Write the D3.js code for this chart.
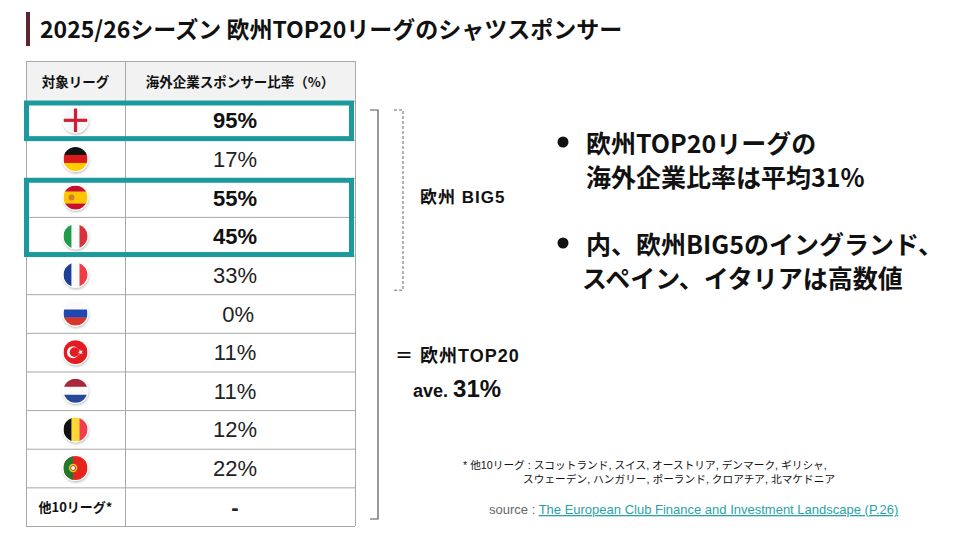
<!DOCTYPE html>
<html>
<head>
<meta charset="utf-8">
<script src="https://cdn.jsdelivr.net/npm/d3@7"></script>
<style>
  body { margin: 0; background: #fff; }
  svg { display: block; }
  .jp { font-family: "Noto Sans CJK JP", "Noto Sans", sans-serif; }
  .ar { font-family: "Liberation Sans", "Noto Sans CJK JP", sans-serif; }
</style>
</head>
<body>
<div id="chart"></div>
<script>
// data
const leagues = ["England", "Germany", "Spain", "Italy", "France", "Russia",
  "Turkey", "Netherlands", "Belgium", "Portugal", "他10リーグ*"];
const shares = ["95%", "17%", "55%", "45%", "33%", " 0%", "11%", "11%", "12%", "22%", "-"];
const highlighted = ["England", "Spain", "Italy"];
const highlightGroups = [["England", "England"], ["Spain", "Italy"]];
const headers = ["対象リーグ", "海外企業スポンサー比率（%）"];
const big5 = ["England", "Germany", "Spain", "Italy", "France"];
const average = "31%";

const width = 960, height = 540;
const teal = "#1c999d";

const svg = d3.select("#chart").append("svg")
  .attr("width", width)
  .attr("height", height);

const defs = svg.append("defs");
const shadow = defs.append("filter").attr("id", "shadow")
  .attr("x", "-40%").attr("y", "-40%").attr("width", "180%").attr("height", "180%");
shadow.append("feDropShadow")
  .attr("dx", 0.5).attr("dy", 1.5).attr("stdDeviation", 1.2)
  .attr("flood-color", "#000").attr("flood-opacity", 0.25);

// title
svg.append("rect").attr("x", 26).attr("y", 12).attr("width", 4).attr("height", 34).attr("fill", "#5e2431");
svg.append("text").attr("class", "jp")
  .attr("x", 40).attr("y", 38)
  .attr("font-size", 23).attr("font-weight", 700).attr("fill", "#111")
  .text("2025/26シーズン 欧州TOP20リーグのシャツスポンサー");

// table scales
const tableTop = 61, headerH = 40, tableBottom = 526;
const y = d3.scaleBand().domain(leagues).range([tableTop + headerH, tableBottom]);
const colEdges = [26, 125, 355];
const colMid = i => (colEdges[i] + colEdges[i + 1]) / 2;

const table = svg.append("g");

table.append("rect")
  .attr("x", colEdges[0]).attr("y", tableTop)
  .attr("width", colEdges[2] - colEdges[0]).attr("height", headerH)
  .attr("fill", "#f2f2f2");

headers.forEach((h, i) => {
  table.append("text").attr("class", "jp")
    .attr("x", colMid(i)).attr("y", tableTop + headerH / 2)
    .attr("text-anchor", "middle").attr("dominant-baseline", "central")
    .attr("font-size", 13.5).attr("font-weight", 700).attr("fill", "#111")
    .text(h);
});

// grid lines
const rowLines = [tableTop, ...leagues.map(d => y(d)), tableBottom];
table.selectAll(".hline").data(rowLines).enter().append("line")
  .attr("x1", colEdges[0]).attr("x2", colEdges[2])
  .attr("y1", d => d + 0.5).attr("y2", d => d + 0.5)
  .attr("stroke", "#a8a8a8").attr("stroke-width", 1);
table.selectAll(".vline").data(colEdges).enter().append("line")
  .attr("x1", d => d + 0.5).attr("x2", d => d + 0.5)
  .attr("y1", tableTop).attr("y2", tableBottom)
  .attr("stroke", "#a8a8a8").attr("stroke-width", 1);

// flags
const flagR = 12;
function stripes(g, colors, vertical) {
  const n = colors.length;
  colors.forEach((c, i) => {
    g.append("rect")
      .attr("x", vertical ? -flagR + i * 2 * flagR / n : -flagR)
      .attr("y", vertical ? -flagR : -flagR + i * 2 * flagR / n)
      .attr("width", vertical ? 2 * flagR / n + 0.3 : 2 * flagR)
      .attr("height", vertical ? 2 * flagR : 2 * flagR / n + 0.3)
      .attr("fill", c);
  });
}
const flagDraw = {
  England: g => {
    g.append("rect").attr("x", -flagR).attr("y", -flagR).attr("width", 2 * flagR).attr("height", 2 * flagR).attr("fill", "#f7f7f7");
    g.append("rect").attr("x", -flagR).attr("y", -1.6).attr("width", 2 * flagR).attr("height", 3.2).attr("fill", "#cf1f3a");
    g.append("rect").attr("x", -1.6).attr("y", -flagR).attr("width", 3.2).attr("height", 2 * flagR).attr("fill", "#cf1f3a");
  },
  Germany: g => stripes(g, ["#111", "#dd1a1a", "#ffcc00"], false),
  Spain: g => {
    stripes(g, ["#c8102e", "#ffc400", "#ffc400", "#c8102e"], false);
    g.append("circle").attr("cx", -4).attr("cy", 0).attr("r", 3).attr("fill", "#c26b3a").attr("opacity", 0.8);
  },
  Italy: g => stripes(g, ["#1f9b4a", "#fafafa", "#d8323c"], true),
  France: g => stripes(g, ["#1d3f9a", "#fafafa", "#ee3c45"], true),
  Russia: g => stripes(g, ["#fafafa", "#1f47b0", "#d9352a"], false),
  Turkey: g => {
    g.append("rect").attr("x", -flagR).attr("y", -flagR).attr("width", 2 * flagR).attr("height", 2 * flagR).attr("fill", "#e31b23");
    g.append("circle").attr("cx", -2.5).attr("cy", 0).attr("r", 6).attr("fill", "#fff");
    g.append("circle").attr("cx", -1).attr("cy", 0).attr("r", 4.8).attr("fill", "#e31b23");
    g.append("path").attr("d", d3.symbol(d3.symbolStar, 10)()).attr("transform", "translate(5,0) rotate(-18)").attr("fill", "#fff");
  },
  Netherlands: g => stripes(g, ["#a8283a", "#fafafa", "#27489a"], false),
  Belgium: g => stripes(g, ["#111", "#fdd835", "#ef3f4a"], true),
  Portugal: g => {
    g.append("rect").attr("x", -flagR).attr("y", -flagR).attr("width", 2 * flagR).attr("height", 2 * flagR).attr("fill", "#e8231c");
    g.append("rect").attr("x", -flagR).attr("y", -flagR).attr("width", 0.8 * flagR).attr("height", 2 * flagR).attr("fill", "#1f7a2c");
    g.append("circle").attr("cx", -flagR + 0.8 * flagR).attr("cy", 0).attr("r", 4.2).attr("fill", "#f6d31c");
    g.append("circle").attr("cx", -flagR + 0.8 * flagR).attr("cy", 0).attr("r", 2.5).attr("fill", "#fff").attr("stroke", "#d02a1e").attr("stroke-width", 1);
  }
};

leagues.forEach((name, i) => {
  const cy = y(name) + y.bandwidth() / 2;
  if (flagDraw[name]) {
    defs.append("clipPath").attr("id", "clip" + i)
      .append("circle").attr("r", flagR);
    const fg = table.append("g").attr("transform", `translate(${colMid(0)},${cy})`);
    fg.append("circle").attr("r", flagR + 1).attr("fill", "#fff").attr("filter", "url(#shadow)");
    const inner = fg.append("g").attr("clip-path", `url(#clip${i})`);
    flagDraw[name](inner);
  } else {
    table.append("text").attr("class", "jp")
      .attr("x", colMid(0)).attr("y", cy)
      .attr("text-anchor", "middle").attr("dominant-baseline", "central")
      .attr("font-size", 13).attr("font-weight", 700).attr("fill", "#111")
      .text(name);
  }
});

table.selectAll(".share").data(leagues).enter().append("text")
  .attr("class", "ar")
  .attr("x", 235)
  .attr("y", d => y(d) + y.bandwidth() / 2 + 8)
  .attr("text-anchor", "middle")
  .attr("font-size", 22)
  .attr("font-weight", d => highlighted.includes(d) || shares[leagues.indexOf(d)] === "-" ? 700 : 400)
  .attr("fill", d => highlighted.includes(d) ? "#111" : "#222")
  .style("white-space", "pre")
  .text((d, i) => shares[i]);

// highlight boxes
table.selectAll(".hl").data(highlightGroups).enter().append("rect")
  .attr("x", colEdges[0] + 0.5)
  .attr("y", d => y(d[0]) + 2)
  .attr("width", 325)
  .attr("height", d => y(d[1]) + y.bandwidth() - y(d[0]) - 3)
  .attr("fill", "none")
  .attr("stroke", teal)
  .attr("stroke-width", 5);

// brackets
const bTop = y(leagues[0]) + 9;
const big5Bottom = y(big5[big5.length - 1]) + y.bandwidth() - 4;
const allBottom = tableBottom - 7;
svg.append("path")
  .attr("d", `M370,${bTop}H378V${allBottom}H370`)
  .attr("fill", "none").attr("stroke", "#555").attr("stroke-width", 1.2);
svg.append("path")
  .attr("d", `M394,${bTop}H403V${big5Bottom}H394`)
  .attr("fill", "none").attr("stroke", "#666").attr("stroke-width", 1)
  .attr("stroke-dasharray", "3,2");

svg.append("text").attr("class", "ar")
  .attr("x", 420).attr("y", 203)
  .attr("font-size", 17).attr("font-weight", 700).attr("fill", "#111")
  .attr("letter-spacing", 1)
  .text("欧州 BIG5");

svg.append("text").attr("class", "ar")
  .attr("x", 395).attr("y", 362)
  .attr("font-size", 18).attr("font-weight", 700).attr("fill", "#111")
  .attr("letter-spacing", 1)
  .text("＝ 欧州TOP20");

const ave = svg.append("text").attr("class", "ar")
  .attr("x", 413).attr("y", 397)
  .attr("font-weight", 700).attr("fill", "#111");
ave.append("tspan").attr("font-size", 18).text("ave. ");
ave.append("tspan").attr("font-size", 24).text(average);

// bullets
const bullets = [
  ["欧州TOP20リーグの", "海外企業比率は平均" + average],
  ["内、欧州BIG5のイングランド、", "スペイン、イタリアは高数値"]
];
const bulletY = [142, 243];
bullets.forEach((lines, i) => {
  svg.append("circle").attr("cx", 563).attr("cy", bulletY[i]).attr("r", 5.5).attr("fill", "#111");
  lines.forEach((t, j) => {
    svg.append("text").attr("class", "jp")
      .attr("x", j === 1 && i === 1 ? 582 : 586)
      .attr("y", bulletY[i] + j * 34)
      .attr("dominant-baseline", "central")
      .attr("font-size", 25).attr("font-weight", 700).attr("fill", "#111")
      .text(t);
  });
});

// footnote
svg.append("text").attr("class", "ar")
  .attr("x", 463).attr("y", 469)
  .attr("font-size", 10.7).attr("fill", "#111")
  .text("* 他10リーグ : スコットランド, スイス, オーストリア, デンマーク, ギリシャ,");
svg.append("text").attr("class", "ar")
  .attr("x", 523).attr("y", 483)
  .attr("font-size", 10.7).attr("fill", "#111")
  .text("スウェーデン, ハンガリー, ポーランド, クロアチア, 北マケドニア");

const src = svg.append("text").attr("class", "ar")
  .attr("x", 489).attr("y", 514)
  .attr("font-size", 13);
src.append("tspan").attr("fill", "#666").text("source : ");
src.append("tspan").attr("fill", "#2aa3a6").attr("text-decoration", "underline")
  .text("The European Club Finance and Investment Landscape (P.26)");
</script>
</body>
</html>
